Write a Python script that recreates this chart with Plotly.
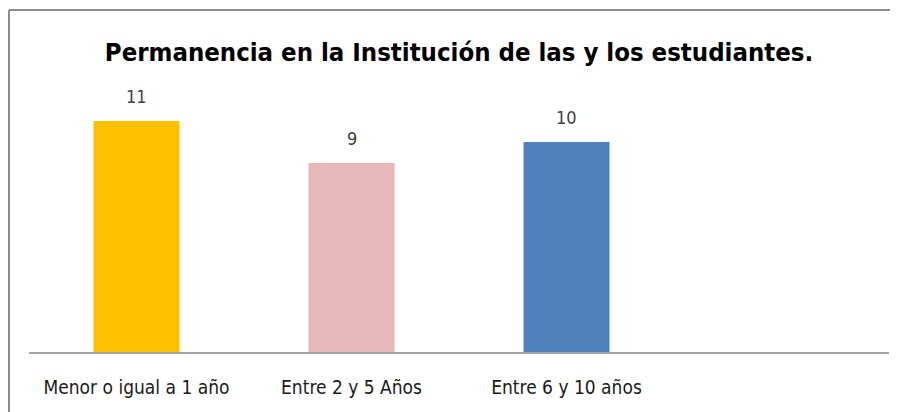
import plotly.graph_objects as go

# Datos
categorias = ["Menor o igual a 1 año", "Entre 2 y 5 Años", "Entre 6 y 10 años"]
estudiantes = [11, 9, 10]
colores = ["#FFC000", "#E6B9B8", "#4F81BD"]
titulo = "Permanencia en la Institución de las y los estudiantes."

FONT = "DejaVu Sans Condensed, Roboto Condensed, Liberation Sans Narrow, Open Sans, sans-serif"

# la pagina tiene un margen de 8 px, la figura queda desplazada
W, H = 890, 404
L, R, T, B = 21, 9, 92, 60
ph, pw = H - T - B, W - L - R

fig = go.Figure(
    go.Bar(
        x=categorias,
        y=estudiantes,
        marker=dict(color=colores, line=dict(width=0)),
        hoverinfo="x+y",
    )
)

# etiquetas de valor sobre cada barra
for cat, val in zip(categorias, estudiantes):
    fig.add_annotation(
        x=cat, y=val, text=str(val), showarrow=False,
        yanchor="middle", yshift=25,
        font=dict(family=FONT, size=18, color="#404040"),
    )

# marco del area del grafico (solo se ve arriba y a la izquierda)
borde_x = (1 - L) / pw
borde_y = (ph + T - 2) / ph
fig.add_shape(type="line", xref="paper", yref="paper",
              x0=borde_x, x1=1.2, y0=borde_y, y1=borde_y,
              line=dict(color="#8C8C8C", width=2))
fig.add_shape(type="line", xref="paper", yref="paper",
              x0=borde_x, x1=borde_x, y0=-0.5, y1=borde_y,
              line=dict(color="#8C8C8C", width=2))

fig.update_layout(
    width=W,
    height=H,
    margin=dict(l=L, r=R, t=T, b=B, autoexpand=False),
    paper_bgcolor="white",
    plot_bgcolor="white",
    showlegend=False,
    bargap=0.6,
    title=dict(
        text=f"<b>{titulo}</b>",
        xref="paper", x=0.5, xanchor="center",
        y=1 - 44 / H, yanchor="middle",
        font=dict(family=FONT, size=25.5, color="black"),
    ),
    xaxis=dict(
        type="category",
        categoryorder="array",
        categoryarray=categorias,
        range=[-0.5, 3.5],
        automargin=False,
        showline=True,
        linecolor="#A6A6A6",
        linewidth=2,
        showgrid=False,
        ticks="",
        ticklabelstandoff=17,
        tickfont=dict(family=FONT, size=19, color="#1A1A1A"),
    ),
    yaxis=dict(
        range=[0, 12],
        visible=False,
        showgrid=False,
        zeroline=False,
        automargin=False,
    ),
)

fig.write_html("out.html")
